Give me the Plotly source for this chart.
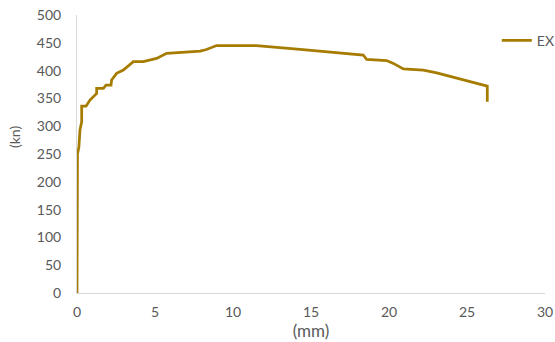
import plotly.graph_objects as go

# Load-displacement curve for specimen EX
disp_mm = [0, 0, 0.03, 0.12, 0.19, 0.3, 0.3, 0.58, 0.83, 1.26, 1.26, 1.69, 1.86, 2.18, 2.22,
           2.54, 2.97, 3.61, 4.25, 5.1, 5.75, 7.9, 8.3, 8.95, 11.5, 14.3, 18.35, 18.57,
           19.85, 20.28, 20.92, 22.2, 23.06, 26.3, 26.3]
load_kn = [0, 239, 250, 262, 293, 308, 336, 336, 347, 359, 368, 368, 374, 374, 383,
           395, 401, 416, 416, 422, 431, 435, 438, 445, 445, 438, 428, 420,
           418, 413, 403, 401, 396, 372, 344]

x_ticks = [0, 5, 10, 15, 20, 25, 30]
y_ticks = [0, 50, 100, 150, 200, 250, 300, 350, 400, 450, 500]

line_color = "#A67C00"
text_color = "#595959"
axis_color = "#D9D9D9"
font_family = "Lato, Open Sans, sans-serif"

W, H = 555, 342
M = dict(l=77, r=10, t=15, b=49, autoexpand=False)

fig = go.Figure()
fig.add_trace(go.Scatter(
    x=disp_mm, y=load_kn, mode="lines", name="EX",
    line=dict(color=line_color, width=2.75),
))

plot_h = H - M["t"] - M["b"]

fig.update_layout(
    width=W, height=H,
    margin=M,
    paper_bgcolor="white", plot_bgcolor="white",
    font=dict(family=font_family, size=14, color=text_color),
    showlegend=True,
    legend=dict(x=0.897, y=0.965, xanchor="left", yanchor="top",
                bgcolor="rgba(0,0,0,0)", font=dict(size=14, color=text_color),
                itemwidth=30, tracegroupgap=0),
    xaxis=dict(
        range=[0, 30], tickvals=x_ticks, showgrid=False, zeroline=False,
        showline=True, linecolor=axis_color, linewidth=1,
        title=dict(text="(mm)", standoff=2), ticks="", ticklabelstandoff=6,
    ),
    yaxis=dict(
        range=[0, 500], tickvals=y_ticks, showgrid=False, zeroline=False,
        showline=True, linecolor=axis_color, linewidth=1,
        ticks="", ticklabelstandoff=12,
    ),
    annotations=[dict(
        text="(kn)", textangle=-90, showarrow=False,
        xref="paper", yref="paper",
        x=-(M["l"] - 14) / (W - M["l"] - M["r"]),
        y=(H - M["b"] - 137) / plot_h,
        xanchor="center", yanchor="middle",
        font=dict(size=14, color=text_color),
    )],
)

fig.write_html("out.html")
